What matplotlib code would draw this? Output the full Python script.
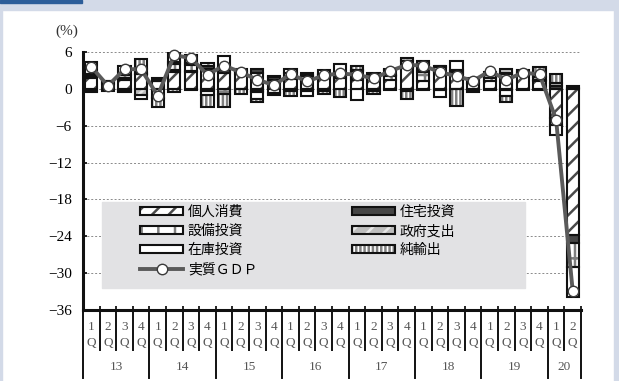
import matplotlib
matplotlib.use("Agg")
import matplotlib.pyplot as plt
from matplotlib.patches import Rectangle, Patch
from matplotlib.lines import Line2D
from matplotlib.legend_handler import HandlerTuple
import matplotlib.transforms as mtransforms
import numpy as np

plt.rcParams['font.family'] = ['Liberation Serif', 'Noto Sans CJK JP']
plt.rcParams['hatch.linewidth'] = 1.8

# data (contribution to real GDP growth, %)
years = ['13', '14', '15', '16', '17', '18', '19', '20']
quarters = ['1', '2', '3', '4'] * 7 + ['1', '2']

gdp = [3.6, 0.5, 3.2, 3.2, -1.1, 5.5, 5.0, 2.3, 3.8, 2.7, 1.5, 0.6, 2.4, 1.2, 2.2,
       2.5, 2.3, 1.7, 2.9, 3.9, 3.8, 2.7, 2.1, 1.3, 2.9, 1.5, 2.6, 2.4, -5.0, -32.9]
pce = [1.7, 0.8, 1.4, 2.4, 1.2, 2.8, 2.7, 3.3, 2.6, 2.4, 2.6, 1.5, 1.6, 2.1, 1.9,
       1.8, 1.4, 1.8, 1.5, 3.4, 1.2, 2.6, 2.4, 1.0, 1.2, 2.5, 2.2, 1.3, -4.8, -23.8]
res = [0.4, 0.3, 0.3, 0.1, 0.0, 0.3, 0.2, 0.4, 0.4, 0.3, 0.7, 0.4, 0.4, -0.3, -0.3,
       0.3, 0.4, -0.3, -0.2, 0.4, -0.2, -0.2, -0.1, -0.2, -0.2, 0.0, 0.2, 0.2, 0.4, -1.3]
equip = [0.3, 0.1, 0.5, 0.7, 0.3, 0.9, 1.0, 0.5, -0.9, 0.2, -0.3, 0.0, -0.4, 0.2, 0.3,
         0.3, 1.1, 0.4, 0.6, 0.8, 1.6, 1.0, 0.3, 0.5, 0.6, -0.2, -0.2, -0.2, -1.1, -3.9]
gov = [-0.3, -0.1, -0.3, -1.0, 0.3, 0.3, 0.3, -0.4, 0.5, 0.4, -0.2, 0.2, 0.6, 0.0, 0.2,
       0.1, 0.1, 0.1, 0.1, 0.5, 0.3, 0.2, 0.3, 0.0, 0.5, 0.8, 0.3, 0.4, 0.6, 0.2]
inv = [2.0, 0.0, 1.6, -0.6, -1.5, 1.7, -0.2, -0.6, 1.8, -0.1, -1.2, -0.6, 0.7, -0.9, 0.6,
       1.6, -1.8, 0.2, 0.8, -0.4, 1.0, -1.1, 1.5, 0.2, 0.5, -1.0, 0.1, 0.0, -1.6, -4.9]
nx = [-0.2, -0.2, -0.2, 1.6, -1.4, -0.5, 1.3, -1.9, -2.0, -0.7, -0.4, -0.4, -0.8, 0.2, -0.5,
      -1.3, 0.8, -0.5, 0.3, -1.2, 0.4, 0.0, -2.7, -0.3, 0.0, -0.9, 0.2, 1.7, 1.4, 0.3]

# name, values, face, hatch, hatch colour
series = [
    ('個人消費', pce, 'white', '//', '#4a4a4a'),
    ('住宅投資', res, '#454545', None, '#454545'),
    ('設備投資', equip, 'white', '+', '#808080'),
    ('政府支出', gov, '#bdbdbd', '//', '#e6e6e6'),
    ('在庫投資', inv, 'white', None, 'white'),
    ('純輸出', nx, 'white', '||||', '#808080'),
]

W, H = 619, 381
fig = plt.figure(figsize=(W / 100, H / 100), dpi=100)

# header band and frame
fig.patches.append(Rectangle((0, 1 - 10 / H), 1, 10 / H, transform=fig.transFigure,
                             color='#d3dae8', zorder=0))
fig.patches.append(Rectangle((0, 0), 2 / W, 1, transform=fig.transFigure,
                             color='#d3dae8', zorder=0))
fig.patches.append(Rectangle((1 - 5 / W, 0), 5 / W, 1, transform=fig.transFigure,
                             color='#d3dae8', zorder=0))
fig.patches.append(Rectangle((0, 1 - 2.5 / H), 82 / W, 2.5 / H, transform=fig.transFigure,
                             color='#2c5d99', zorder=1))

ax = fig.add_axes([83 / W, 1 - 310 / H, 498 / W, 258 / H])
x = np.arange(len(gdp))

pos = np.zeros(len(x))
neg = np.zeros(len(x))
handles = {}
for name, vals, face, hatch, hcol in series:
    v = np.array(vals)
    bottom = np.where(v >= 0, pos, neg)
    ax.bar(x, v, 0.74, bottom=bottom, color=face, hatch=hatch, edgecolor=hcol,
           linewidth=0, zorder=3)
    ax.bar(x, v, 0.74, bottom=bottom, fill=False, edgecolor='#111111',
           linewidth=1.5, zorder=4)
    pos = pos + np.where(v >= 0, v, 0)
    neg = neg + np.where(v < 0, v, 0)
    handles[name] = (Patch(facecolor=face, hatch=hatch, edgecolor=hcol, linewidth=0),
                     Patch(fill=False, edgecolor='#111111', linewidth=1.5))

ax.plot(x, gdp, color='#5a5a5a', lw=2.8, marker='o', ms=7.5, mfc='white',
        mec='#3a3a3a', mew=1.0, zorder=6, clip_on=False)
handles['実質ＧＤＰ'] = Line2D([], [], color='#5a5a5a', lw=2.8, marker='o', ms=7.5,
                           mfc='white', mec='#3a3a3a', mew=1.0)

ax.set_xlim(-0.5, 29.5)
ax.set_ylim(-36, 6)
ax.set_yticks(range(-36, 7, 6))
for y in range(-30, 7, 6):
    ax.axhline(y, color='#8a8a8a', lw=0.7, ls=(0, (2, 2)), zorder=0)

for s in ['top', 'right']:
    ax.spines[s].set_visible(False)
for s in ['left', 'bottom']:
    ax.spines[s].set_linewidth(2.2)
    ax.spines[s].set_color('#111111')

bounds = np.arange(31) - 0.5
ax.set_xticks(bounds)
ax.set_xticklabels([])
ax.tick_params(axis='x', direction='in', length=3, width=1.2)
ax.tick_params(axis='y', direction='in', length=3, width=1.2, labelsize=11, pad=8)

# legend background box
ax.add_patch(Rectangle((0.64, -32.4), 25.5, 14.0, color='#e2e2e4', zorder=1))
order = ['個人消費', '設備投資', '在庫投資', '実質ＧＤＰ', '住宅投資', '政府支出', '純輸出']
ax.legend([handles[k] for k in order], order, ncol=2, loc='upper left',
          bbox_to_anchor=(0.1145, 0.405), frameon=False, fontsize=10,
          handlelength=3.1, handleheight=0.55, handletextpad=0.35,
          columnspacing=6.8, labelspacing=0.42, borderpad=0, borderaxespad=0,
          handler_map={tuple: HandlerTuple(ndivide=1, pad=0)})

# category axis below
tr = mtransforms.blended_transform_factory(ax.transData, ax.transAxes)
for i, q in enumerate(quarters):
    ax.text(i, -0.066, q, transform=tr, ha='center', va='center', fontsize=9.5, color='#555555')
    ax.text(i, -0.128, 'Q', transform=tr, ha='center', va='center', fontsize=9.5, color='#555555')
year_bounds = [0, 4, 8, 12, 16, 20, 24, 28, 30]
for k, b in enumerate(bounds):
    low = -0.264 if k in year_bounds else -0.155
    ax.plot([b, b], [-0.008, low], transform=tr, color='#111111', lw=1.4, clip_on=False)
for k, yr in enumerate(years):
    c = (year_bounds[k] + year_bounds[k + 1] - 1) / 2
    ax.text(c, -0.221, yr, transform=tr, ha='center', va='center', fontsize=9.5, color='#555555')

fig.text(67 / W, 1 - 31 / H, '(%)', ha='center', va='center', fontsize=11, color='#333333')

fig.savefig('out.png', dpi=100)
